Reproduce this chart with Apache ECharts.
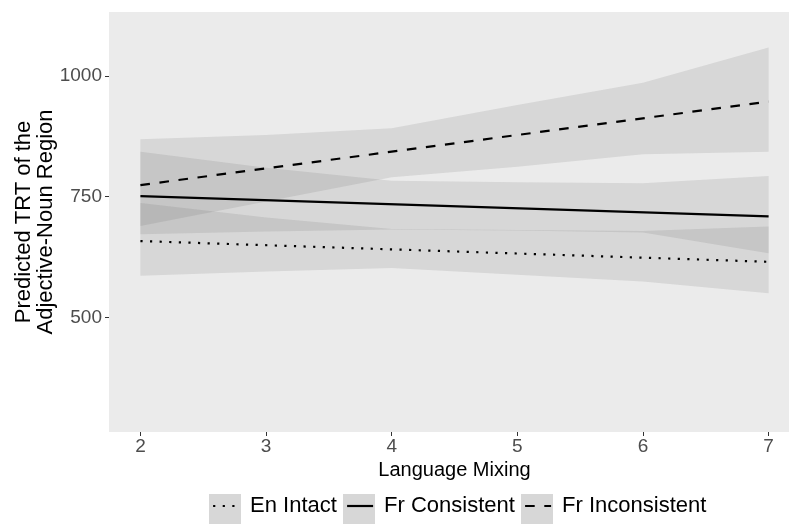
<!DOCTYPE html>
<html>
<head>
<meta charset="utf-8">
<script src="https://cdn.jsdelivr.net/npm/echarts@6/dist/echarts.min.js"></script>
<style>
html,body{margin:0;padding:0;background:#fff;}
#chart{width:789px;height:524px;}
</style>
</head>
<body>
<div id="chart"></div>
<script>
// ---- data ----
const xVals = [2, 3, 4, 5, 6, 7];
const xTicks = [2, 3, 4, 5, 6, 7];
const yTicks = [500, 750, 1000];
const seriesNames = ['En Intact', 'Fr Consistent', 'Fr Inconsistent'];

const enLower = [586, 595, 602, 588, 574, 550];
const enUpper = [737, 707, 683, 681, 679, 688];
const fcLower = [672, 678, 682, 680, 676, 633];
const fcUpper = [843, 810, 783, 780, 778, 793];
const fiLower = [689, 740, 790, 812, 838, 843];
const fiUpper = [869, 878, 892, 940, 986, 1059];

const fitX = [2, 7];
const enFit = [658, 615];
const fcFit = [751, 709];
const fiFit = [774, 947];

// ---- build options ----
const bandFill = 'rgba(100,100,100,0.15)';
function bandSeries(lower, upper) {
  return {
    type: 'custom', silent: true, z: 1,
    data: xVals.map((x, i) => [x, lower[i], upper[i]]),
    encode: { x: 0, y: [1, 2] },
    renderItem: function (params, api) {
      if (params.dataIndex !== 0) return null;
      const pts = [];
      for (let i = 0; i < xVals.length; i++) pts.push(api.coord([xVals[i], upper[i]]));
      for (let i = xVals.length - 1; i >= 0; i--) pts.push(api.coord([xVals[i], lower[i]]));
      return { type: 'polygon', shape: { points: pts }, style: { fill: bandFill } };
    }
  };
}
function fitSeries(name, vals, type) {
  return {
    name: name, type: 'line', symbol: 'none', silent: true,
    data: fitX.map((x, i) => [x, vals[i]]),
    lineStyle: { color: '#000', width: 2.2, type: type, cap: 'butt' },
    itemStyle: { color: '#000' }, z: 3
  };
}

const keyY = 494, keyH = 30, keyW = 32;
const keyLefts = [209, 343, 521];

const option = {
  animation: false,
  backgroundColor: '#ffffff',
  textStyle: { fontFamily: 'Liberation Sans, Arial, sans-serif' },
  grid: {
    left: 109, top: 12, width: 691, height: 420,
    outerBoundsMode: 'none', containLabel: false,
    show: true, backgroundColor: '#EBEBEB', borderWidth: 0
  },
  xAxis: {
    type: 'value', min: 1.75, max: 7.25,
    name: 'Language Mixing', nameLocation: 'middle', nameGap: 25,
    nameTextStyle: { fontSize: 20, color: '#000' },
    axisLine: { show: false },
    axisTick: { show: true, length: 4, customValues: xTicks, lineStyle: { color: '#333333', width: 1 } },
    axisLabel: { customValues: xTicks, fontSize: 19, color: '#4D4D4D', margin: 5, formatter: v => String(v) },
    splitLine: { show: false }
  },
  yAxis: {
    type: 'value', min: 262.4, max: 1132.6,
    name: 'Predicted TRT of the\nAdjective-Noun Region',
    nameLocation: 'middle', nameRotate: 90, nameGap: 52, nameMoveOverlap: false,
    nameTextStyle: { fontSize: 22, color: '#000', lineHeight: 22 },
    axisLine: { show: false },
    axisTick: { show: true, length: 4, customValues: yTicks, lineStyle: { color: '#333333', width: 1 } },
    axisLabel: { customValues: yTicks, fontSize: 19, color: '#4D4D4D', margin: 7, formatter: v => String(v) },
    splitLine: { show: false }
  },
  legend: seriesNames.map((n, i) => ({
    data: [n], left: keyLefts[i] + 3, top: keyY, itemWidth: 26, itemHeight: keyH,
    padding: 0, selectedMode: false, z: 5,
    itemStyle: { opacity: 0 },
    textStyle: { fontSize: 22, color: '#000', padding: [0, 0, 0, 6] },
    lineStyle: { width: 2.2 }
  })),
  graphic: keyLefts.map(l => ({
    type: 'rect', left: l, top: keyY, z: 0,
    shape: { width: keyW, height: keyH },
    style: { fill: '#D7D7D7' }
  })),
  series: [
    bandSeries(enLower, enUpper),
    bandSeries(fcLower, fcUpper),
    bandSeries(fiLower, fiUpper),
    fitSeries(seriesNames[0], enFit, [2.2, 7.4]),
    fitSeries(seriesNames[1], fcFit, 'solid'),
    fitSeries(seriesNames[2], fiFit, [9.6, 9.6])
  ]
};

const chart = echarts.init(document.getElementById('chart'), null, { renderer: 'canvas' });
chart.setOption(option);
</script>
</body>
</html>
